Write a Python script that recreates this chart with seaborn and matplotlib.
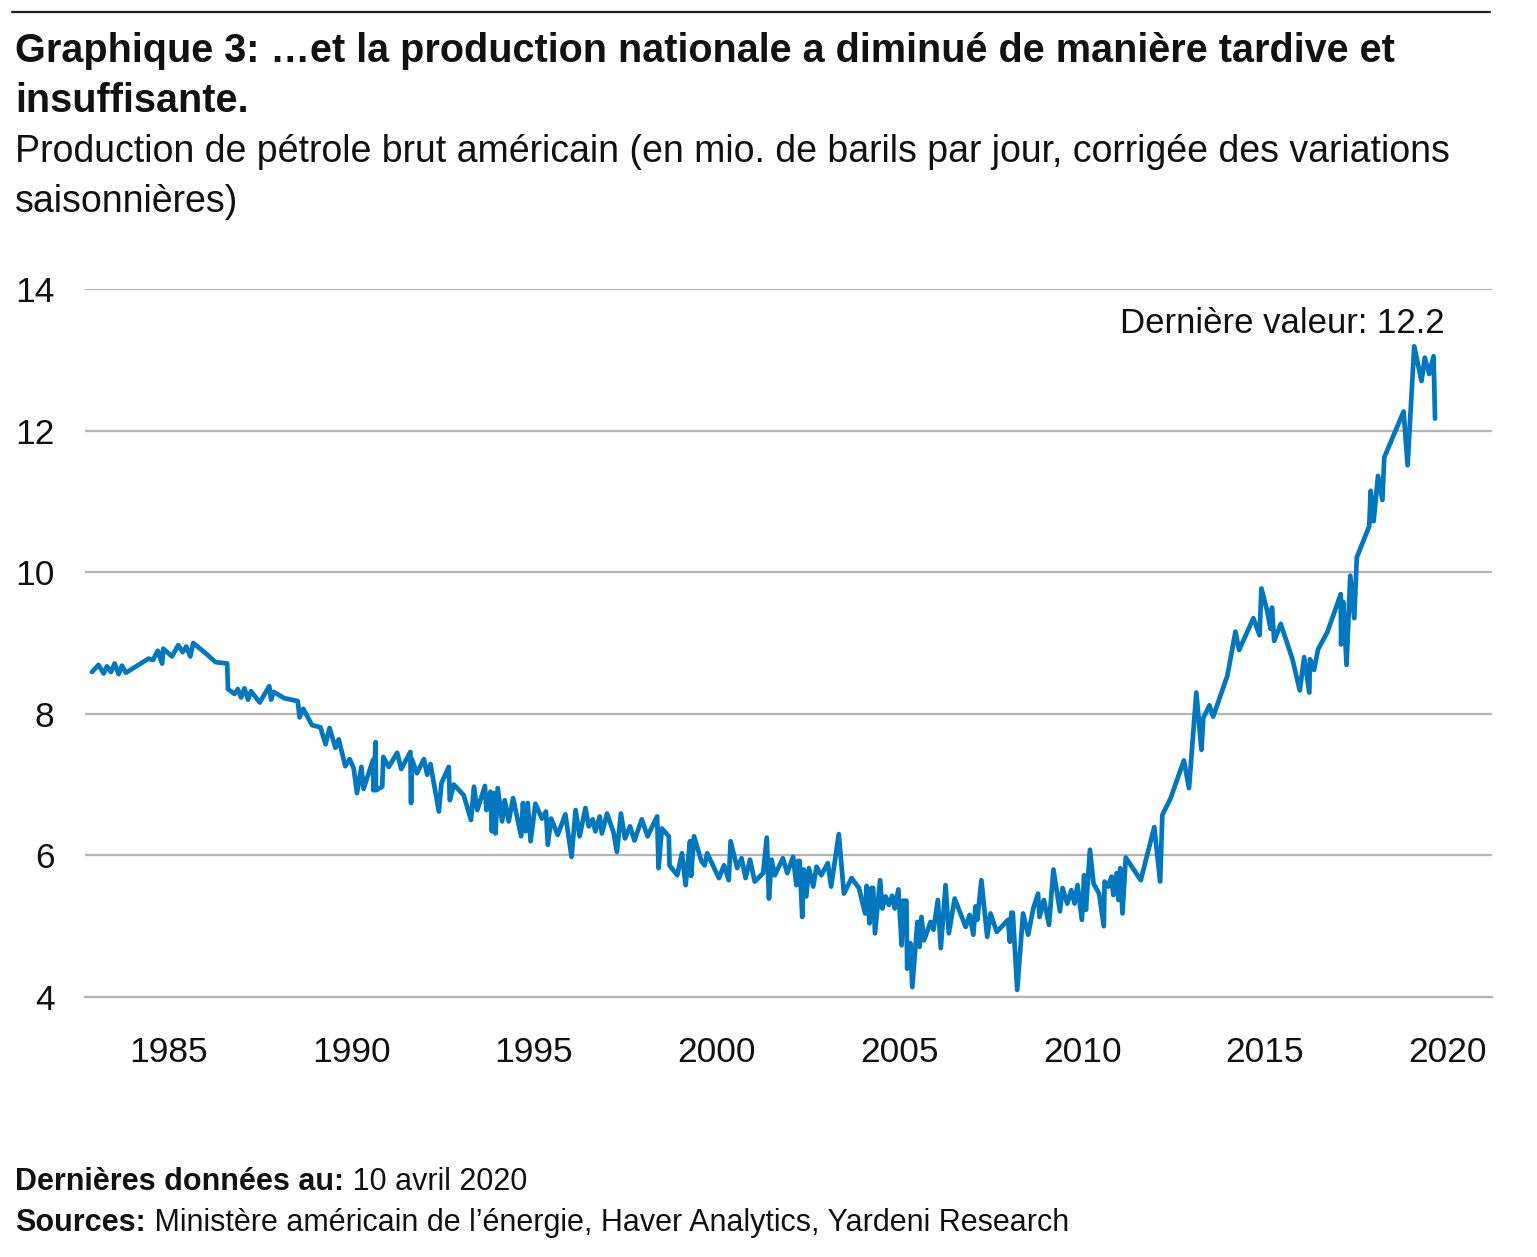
import matplotlib
matplotlib.use("Agg")
import pandas as pd
import matplotlib.pyplot as plt
import seaborn as sns

# Production de pétrole brut américain (mio. de barils / jour)
YEARS = [
    1982.91, 1983.09, 1983.23, 1983.32, 1983.43, 1983.53, 1983.64, 1983.73, 1983.84, 1984.46,
    1984.58, 1984.71, 1984.83, 1984.86, 1985.10, 1985.27, 1985.39, 1985.49, 1985.60, 1985.68,
    1986.01, 1986.29, 1986.61, 1986.63, 1986.81, 1986.90, 1986.99, 1987.08, 1987.18, 1987.26,
    1987.50, 1987.76, 1987.81, 1987.88, 1988.17, 1988.54, 1988.59, 1988.69, 1988.93, 1989.16,
    1989.30, 1989.41, 1989.57, 1989.66, 1989.84, 1989.96, 1990.07, 1990.16, 1990.28, 1990.34,
    1990.60, 1990.61, 1990.67, 1990.68, 1990.85, 1990.88, 1991.03, 1991.26, 1991.37, 1991.62,
    1991.64, 1991.66, 1991.80, 1991.99, 1992.08, 1992.17, 1992.40, 1992.47, 1992.67, 1992.70,
    1992.81, 1993.08, 1993.28, 1993.36, 1993.45, 1993.66, 1993.70, 1993.81, 1993.85, 1993.90,
    1993.95, 1994.01, 1994.13, 1994.20, 1994.31, 1994.43, 1994.65, 1994.70, 1994.77, 1994.83,
    1994.91, 1995.04, 1995.22, 1995.33, 1995.38, 1995.47, 1995.65, 1995.86, 1996.03, 1996.14,
    1996.25, 1996.41, 1996.50, 1996.61, 1996.68, 1996.80, 1996.86, 1997.00, 1997.18, 1997.27,
    1997.38, 1997.49, 1997.63, 1997.75, 1997.95, 1998.11, 1998.37, 1998.41, 1998.50, 1998.69,
    1998.71, 1998.92, 1999.05, 1999.15, 1999.27, 1999.30, 1999.38, 1999.58, 1999.67, 1999.74,
    2000.06, 2000.20, 2000.33, 2000.38, 2000.56, 2000.68, 2000.79, 2000.91, 2001.04, 2001.27,
    2001.37, 2001.43, 2001.50, 2001.59, 2001.81, 2001.93, 2002.09, 2002.18, 2002.22, 2002.27,
    2002.34, 2002.38, 2002.45, 2002.52, 2002.64, 2002.73, 2002.86, 2003.04, 2003.13, 2003.34,
    2003.48, 2003.69, 2003.89, 2004.06, 2004.10, 2004.18, 2004.23, 2004.28, 2004.33, 2004.47,
    2004.53, 2004.62, 2004.71, 2004.80, 2004.87, 2004.97, 2005.06, 2005.10, 2005.19, 2005.21,
    2005.30, 2005.35, 2005.49, 2005.55, 2005.60, 2005.67, 2005.85, 2005.93, 2006.05, 2006.13,
    2006.26, 2006.35, 2006.51, 2006.81, 2006.92, 2007.02, 2007.08, 2007.13, 2007.24, 2007.40,
    2007.49, 2007.66, 2007.97, 2008.02, 2008.06, 2008.10, 2008.22, 2008.38, 2008.52, 2008.66,
    2008.79, 2008.83, 2008.95, 2009.09, 2009.21, 2009.39, 2009.46, 2009.59, 2009.70, 2009.79,
    2009.87, 2009.99, 2010.05, 2010.10, 2010.21, 2010.31, 2010.46, 2010.59, 2010.61, 2010.71,
    2010.80, 2010.85, 2010.94, 2010.99, 2011.04, 2011.10, 2011.19, 2011.60, 2011.97, 2012.13,
    2012.19, 2012.42, 2012.56, 2012.78, 2012.92, 2013.12, 2013.26, 2013.31, 2013.48, 2013.58,
    2013.97, 2014.19, 2014.29, 2014.68, 2014.85, 2014.90, 2015.06, 2015.15, 2015.19, 2015.25,
    2015.43, 2015.75, 2015.95, 2016.07, 2016.21, 2016.23, 2016.34, 2016.45, 2016.71, 2016.98,
    2017.07, 2017.08, 2017.14, 2017.23, 2017.33, 2017.44, 2017.51, 2017.85, 2017.89, 2017.97,
    2018.09, 2018.21, 2018.26, 2018.79, 2018.90, 2019.08, 2019.28, 2019.37, 2019.49, 2019.61,
    2019.65,
]
PRODUCTION = [
    8.59, 8.69, 8.57, 8.67, 8.59, 8.71, 8.56, 8.68, 8.58, 8.78,
    8.76, 8.89, 8.71, 8.92, 8.81, 8.97, 8.87, 8.95, 8.81, 9.00,
    8.86, 8.73, 8.71, 8.35, 8.28, 8.35, 8.23, 8.36, 8.20, 8.32,
    8.16, 8.39, 8.20, 8.31, 8.22, 8.18, 7.95, 8.07, 7.84, 7.81,
    7.57, 7.80, 7.52, 7.64, 7.26, 7.36, 7.23, 6.88, 7.25, 6.94,
    7.35, 6.92, 7.60, 6.92, 6.97, 7.39, 7.25, 7.45, 7.22, 7.46,
    6.74, 7.36, 7.16, 7.36, 7.14, 7.29, 6.62, 7.02, 7.25, 6.78,
    7.00, 6.85, 6.50, 6.97, 6.64, 6.98, 6.64, 6.90, 6.34, 6.88,
    6.31, 6.95, 6.48, 6.78, 6.48, 6.81, 6.27, 6.74, 6.34, 6.74,
    6.20, 6.73, 6.52, 6.62, 6.15, 6.52, 6.29, 6.58, 5.98, 6.64,
    6.27, 6.67, 6.41, 6.51, 6.34, 6.55, 6.31, 6.59, 6.32, 6.05,
    6.59, 6.24, 6.41, 6.21, 6.51, 6.27, 6.55, 5.82, 6.38, 6.27,
    5.86, 5.72, 6.03, 5.58, 6.20, 5.71, 6.27, 5.92, 5.86, 6.03,
    5.68, 5.86, 5.65, 6.20, 5.82, 5.96, 5.68, 5.94, 5.63, 5.75,
    6.25, 5.39, 5.94, 5.72, 5.96, 5.75, 5.98, 5.58, 5.92, 5.92,
    5.13, 5.80, 5.42, 5.82, 5.56, 5.84, 5.72, 5.89, 5.56, 6.30,
    5.46, 5.68, 5.54, 5.18, 5.57, 5.04, 5.54, 5.54, 4.90, 5.65,
    5.25, 5.42, 5.30, 5.43, 5.25, 5.52, 4.73, 5.36, 5.36, 4.40,
    4.76, 4.14, 5.06, 4.71, 5.13, 4.80, 5.06, 4.95, 5.37, 4.69,
    5.58, 4.90, 5.39, 4.99, 5.16, 4.88, 5.28, 5.09, 5.65, 4.85,
    5.18, 4.92, 5.09, 4.78, 5.19, 5.19, 4.10, 5.18, 4.88, 5.25,
    5.46, 5.13, 5.37, 5.02, 5.80, 5.21, 5.54, 5.32, 5.51, 5.32,
    5.58, 5.09, 5.72, 5.23, 6.08, 5.60, 5.46, 5.00, 5.63, 5.56,
    5.70, 5.44, 5.75, 5.37, 5.82, 5.18, 5.97, 5.65, 6.40, 5.63,
    6.57, 6.81, 7.02, 7.34, 6.95, 8.30, 7.49, 7.94, 8.12, 7.96,
    8.54, 9.16, 8.90, 9.35, 9.11, 9.77, 9.45, 9.20, 9.50, 9.03,
    9.27, 8.77, 8.33, 8.80, 8.30, 8.77, 8.62, 8.91, 9.16, 9.56,
    9.69, 8.98, 9.58, 8.69, 9.95, 9.35, 10.21, 10.65, 11.15, 10.72,
    11.36, 11.02, 11.62, 12.27, 11.51, 13.19, 12.70, 13.03, 12.80, 13.05,
    12.17,
]
X_TICKS = [1985, 1990, 1995, 2000, 2005, 2010, 2015, 2020]
Y_TICKS = [4, 6, 8, 10, 12, 14]
LAST_VALUE = 12.2

TITLE_LINES = [
    "Graphique 3: …et la production nationale a diminué de manière tardive et",
    "insuffisante.",
]
SUBTITLE_LINES = [
    "Production de pétrole brut américain (en mio. de barils par jour, corrigée des variations",
    "saisonnières)",
]
FOOTER = [
    ("Dernières données au:", " 10 avril 2020"),
    ("Sources:", " Ministère américain de l’énergie, Haver Analytics, Yardeni Research"),
]

W, H = 1537, 1257
BLUE = "#0077be"
GREY = "#b4b4b4"
INK = "#111111"


def fx(px):
    return px / W


def fy(py):
    return 1 - py / H


sns.set_theme(style="white")
plt.rcParams["font.family"] = ["Liberation Sans", "DejaVu Sans"]

fig = plt.figure(figsize=(W / 100, H / 100), dpi=100)
ax = fig.add_axes([fx(85), fy(997), fx(1491.7) - fx(85), fy(289) - fy(997)])

df = pd.DataFrame({"annee": YEARS, "production": PRODUCTION})
sns.lineplot(data=df, x="annee", y="production", estimator=None, sort=False,
             color=BLUE, linewidth=3.4, ax=ax)

ax.set_xlim(1982.72, 2021.2)
ax.set_ylim(4, 14)
ax.set_xticks(X_TICKS)
ax.set_yticks(Y_TICKS)
ax.set_xlabel("")
ax.set_ylabel("")
ax.yaxis.grid(True, color=GREY, linewidth=1.6)
ax.xaxis.grid(False)
for side in ["top", "right", "left"]:
    ax.spines[side].set_visible(False)
ax.spines["bottom"].set_color(GREY)
ax.spines["bottom"].set_linewidth(1.6)
ax.tick_params(axis="x", length=5, width=1.6, color=GREY, pad=23,
               labelsize=25.5, labelcolor=INK)
ax.tick_params(axis="y", length=0, pad=22, labelsize=25.5, labelcolor=INK)

ax.text(2019.9, 13.38, f"Dernière valeur: {LAST_VALUE}", ha="right", va="baseline",
        fontsize=25, color=INK)

# rule + titles
fig.add_artist(plt.Line2D([fx(12), fx(1490)], [fy(12), fy(12)], color="#222222",
                          linewidth=1.6))
for i, line in enumerate(TITLE_LINES):
    fig.text(fx(15), fy(62 + 50 * i), line, fontsize=28.5, fontweight="bold",
             va="baseline", color=INK)
for i, line in enumerate(SUBTITLE_LINES):
    fig.text(fx(15), fy(162 + 50 * i), line, fontsize=27, va="baseline", color=INK)

# footer: bold lead + regular text
for i, (lead, rest) in enumerate(FOOTER):
    t = fig.text(fx(15), fy(1197 + 41 * i), lead, fontsize=22, fontweight="bold",
                 va="bottom", color=INK)
    ax.annotate(rest, xy=(1, 0), xycoords=t, va="bottom", ha="left",
                fontsize=22, color=INK, annotation_clip=False)

fig.savefig("out.png", dpi=100)
